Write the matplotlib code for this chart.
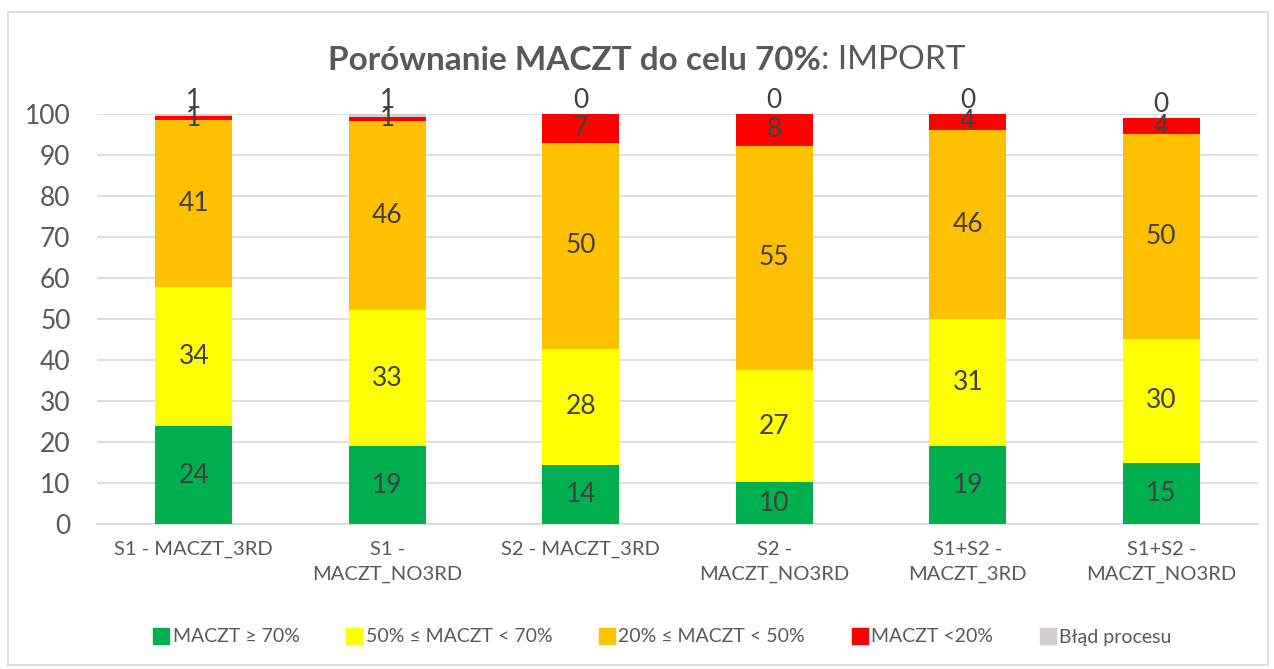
import matplotlib
matplotlib.use("Agg")
import matplotlib.pyplot as plt
import numpy as np
from matplotlib.lines import Line2D
from matplotlib.patches import Rectangle

categories = ["S1 - MACZT_3RD", "S1 -\nMACZT_NO3RD", "S2 - MACZT_3RD",
              "S2 -\nMACZT_NO3RD", "S1+S2 -\nMACZT_3RD", "S1+S2 -\nMACZT_NO3RD"]
series_names = ["MACZT ≥ 70%", "50% ≤ MACZT < 70%", "20% ≤ MACZT < 50%", "MACZT <20%", "Błąd procesu"]
green = [23.9, 19.0, 14.4, 10.2, 19.0, 14.9]
yellow = [33.9, 33.2, 28.3, 27.4, 31.0, 30.2]
orange = [40.7, 46.1, 50.3, 54.6, 46.1, 50.0]
red = [0.9, 1.0, 7.0, 7.8, 3.9, 3.9]
grey = [0.6, 0.7, 0.0, 0.0, 0.0, 0.0]
labels_green = [24, 19, 14, 10, 19, 15]
labels_yellow = [34, 33, 28, 27, 31, 30]
labels_orange = [41, 46, 50, 55, 46, 50]
labels_red = [1, 1, 7, 8, 4, 4]
labels_grey = [1, 1, 0, 0, 0, 0]
colors = ["#00B050", "#FFFF00", "#FFC000", "#FF0000", "#D0CECE"]

font = ["Lato", "DejaVu Sans"]
plt.rcParams['font.family'] = font

W, H = 1274, 669
fig = plt.figure(figsize=(W / 100, H / 100), dpi=100)
ax = fig.add_axes([97 / W, 1 - 524 / H, (1258 - 97) / W, (524 - 114) / H])

x = np.arange(len(categories))
series = [green, yellow, orange, red, grey]
labs = [labels_green, labels_yellow, labels_orange, labels_red, labels_grey]
bottom = np.zeros(len(categories))
txtc = "#404040"
for i, (vals, col) in enumerate(zip(series, colors)):
    vals = np.array(vals)
    ax.bar(x, vals, 0.4, bottom=bottom, color=col, zorder=3)
    for j in range(len(x)):
        if i == 4:
            yy = bottom[j] + vals[j] + 0.2
            ax.text(x[j], yy, str(labs[i][j]), ha="center", va="bottom",
                    fontsize=19, color=txtc, zorder=5)
        else:
            yy = bottom[j] + vals[j] / 2
            ax.text(x[j], yy, str(labs[i][j]), ha="center", va="center",
                    fontsize=19, color=txtc, zorder=5)
    bottom += vals

ax.set_xlim(-0.5, len(categories) - 0.5)
ax.set_ylim(0, 100)
ax.set_yticks(np.arange(0, 101, 10))
ax.yaxis.grid(True, color="#D9D9D9", linewidth=1.2, zorder=0)
ax.set_axisbelow(True)
for s in ["top", "right", "left"]:
    ax.spines[s].set_visible(False)
ax.spines["bottom"].set_color("#D9D9D9")
ax.spines["bottom"].set_linewidth(1.2)
ax.tick_params(axis="y", length=0, labelsize=19, labelcolor="#595959", pad=19)
ax.tick_params(axis="x", length=0, labelsize=14.5, labelcolor="#595959", pad=12)
ax.set_xticks(x)
ax.set_xticklabels(categories, linespacing=1.55)
for t in ax.get_xticklabels():
    t.set_verticalalignment("top")

# Title with bold + normal parts
fig.canvas.draw()
r = fig.canvas.get_renderer()
t1 = fig.text(0, 1 - 60 / H, "Porównanie MACZT do celu 70%", fontsize=24,
              fontweight="bold", color="#595959", va="center", ha="left")
t2 = fig.text(0, 1 - 60 / H, ": IMPORT", fontsize=24, color="#595959",
              va="center", ha="left")
w1 = t1.get_window_extent(r).width
w2 = t2.get_window_extent(r).width
start = 647 - (w1 + w2) / 2
t1.set_x(start / W)
t2.set_x((start + w1) / W)

handles = [Line2D([], [], marker="s", linestyle="none", markersize=11,
                  markerfacecolor=c, markeredgecolor=c) for c in colors]
fig.legend(handles, series_names, loc="center", bbox_to_anchor=(0.52, 1 - 637 / H),
           ncol=5, frameon=False, fontsize=14, labelcolor="#595959",
           handletextpad=0.2, columnspacing=2.4, handlelength=0.8)

fig.patches.append(Rectangle((8 / W, 4 / H), (1268 - 8) / W, (657 - 4) / H,
                             transform=fig.transFigure, fill=False,
                             edgecolor="#D9D9D9", linewidth=1.2))

fig.savefig("out.png", dpi=100, facecolor="white")
